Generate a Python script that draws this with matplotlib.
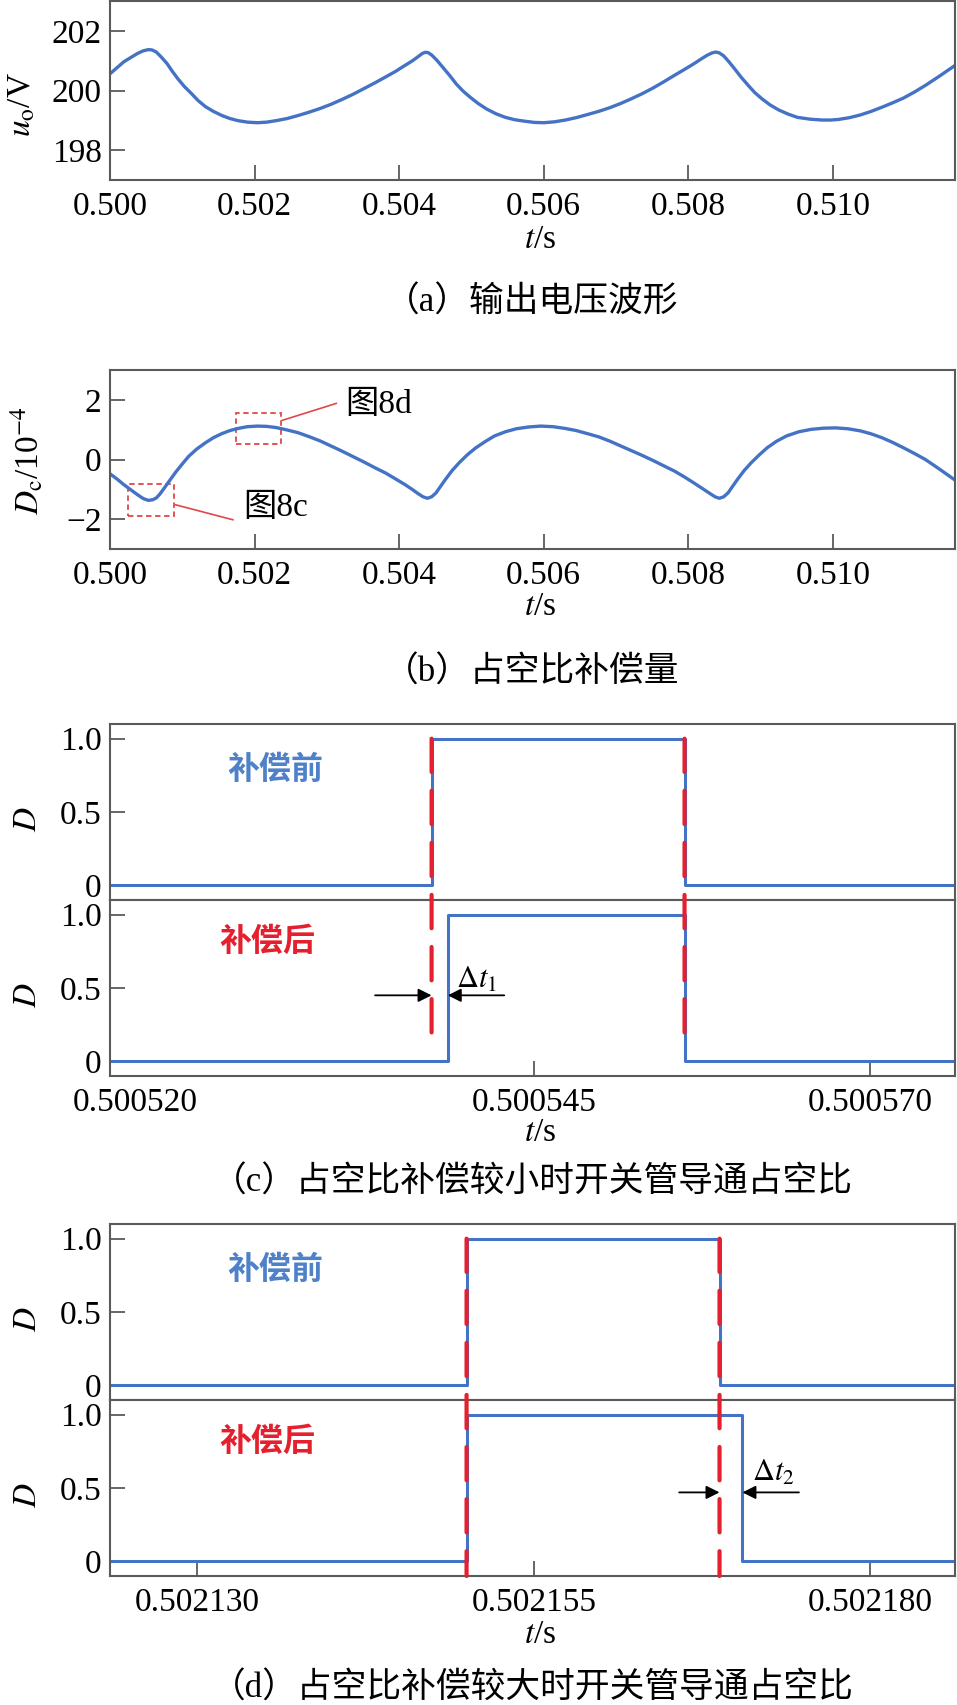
import matplotlib
matplotlib.use('Agg')
import matplotlib.pyplot as plt
from matplotlib.patches import Rectangle, ConnectionPatch

plt.rcParams['font.family'] = ['Liberation Serif', 'Noto Sans CJK SC']
plt.rcParams['mathtext.fontset'] = 'stix'

# (a) output voltage u_o
t_a = [0.50000, 0.50010, 0.50019, 0.50029, 0.50038, 0.50046, 0.50053, 0.50058,
       0.50064, 0.50071, 0.50079, 0.50086, 0.50094, 0.50103, 0.50113, 0.50122,
       0.50132, 0.50143, 0.50155, 0.50166, 0.50177, 0.50190, 0.50204, 0.50217,
       0.50230, 0.50245, 0.50260, 0.50275, 0.50291, 0.50306, 0.50321, 0.50336,
       0.50351, 0.50366, 0.50381, 0.50395, 0.50408, 0.50418, 0.50426, 0.50432,
       0.50436, 0.50440, 0.50445, 0.50452, 0.50460, 0.50470, 0.50479, 0.50488,
       0.50498, 0.50509, 0.50521, 0.50534, 0.50547, 0.50560, 0.50574, 0.50587,
       0.50600, 0.50615, 0.50630, 0.50645, 0.50660, 0.50676, 0.50691, 0.50706,
       0.50721, 0.50736, 0.50751, 0.50766, 0.50781, 0.50795, 0.50808, 0.50818,
       0.50826, 0.50833, 0.50838, 0.50843, 0.50849, 0.50856, 0.50864, 0.50873,
       0.50883, 0.50892, 0.50902, 0.50913, 0.50925, 0.50938, 0.50951, 0.50968,
       0.50985, 0.50997, 0.51008, 0.51023, 0.51038, 0.51053, 0.51068, 0.51083,
       0.51098, 0.51113, 0.51128, 0.51148, 0.51169]
u_o = [200.56, 200.77, 200.96, 201.11, 201.24, 201.33, 201.37, 201.36,
       201.29, 201.12, 200.90, 200.65, 200.39, 200.13, 199.89, 199.66,
       199.46, 199.30, 199.16, 199.06, 198.99, 198.94, 198.92, 198.94,
       198.99, 199.06, 199.16, 199.27, 199.40, 199.54, 199.70, 199.87,
       200.06, 200.25, 200.45, 200.64, 200.84, 200.99, 201.13, 201.24,
       201.28, 201.27, 201.19, 201.02, 200.79, 200.50, 200.22, 199.99,
       199.78, 199.57, 199.38, 199.22, 199.10, 199.02, 198.97, 198.93,
       198.92, 198.95, 199.01, 199.09, 199.19, 199.30, 199.42, 199.56,
       199.72, 199.89, 200.08, 200.29, 200.51, 200.71, 200.90, 201.06,
       201.18, 201.26, 201.29, 201.26, 201.16, 200.97, 200.73, 200.45,
       200.17, 199.93, 199.72, 199.52, 199.35, 199.21, 199.10, 199.04,
       199.01, 199.01, 199.03, 199.09, 199.18, 199.30, 199.44, 199.59,
       199.75, 199.95, 200.17, 200.49, 200.84]

# (b) duty compensation D_c (x 1e-4)
t_b = [0.50000, 0.50010, 0.50019, 0.50029, 0.50038, 0.50046, 0.50053, 0.50059,
       0.50064, 0.50069, 0.50075, 0.50083, 0.50091, 0.50100, 0.50109, 0.50120,
       0.50132, 0.50143, 0.50155, 0.50166, 0.50177, 0.50190, 0.50204, 0.50217,
       0.50230, 0.50245, 0.50260, 0.50275, 0.50291, 0.50306, 0.50321, 0.50336,
       0.50351, 0.50366, 0.50381, 0.50395, 0.50408, 0.50418, 0.50426, 0.50433,
       0.50439, 0.50445, 0.50451, 0.50457, 0.50464, 0.50473, 0.50483, 0.50494,
       0.50506, 0.50519, 0.50532, 0.50547, 0.50562, 0.50579, 0.50596, 0.50613,
       0.50630, 0.50645, 0.50660, 0.50676, 0.50691, 0.50706, 0.50721, 0.50736,
       0.50751, 0.50766, 0.50781, 0.50795, 0.50808, 0.50820, 0.50830, 0.50837,
       0.50843, 0.50849, 0.50855, 0.50861, 0.50868, 0.50877, 0.50887, 0.50898,
       0.50909, 0.50922, 0.50936, 0.50953, 0.50970, 0.50987, 0.51004, 0.51021,
       0.51038, 0.51053, 0.51068, 0.51083, 0.51098, 0.51113, 0.51128, 0.51148,
       0.51169]
d_c = [-0.48, -0.66, -0.84, -1.02, -1.18, -1.31, -1.37, -1.35,
       -1.29, -1.16, -0.96, -0.69, -0.42, -0.15, 0.11, 0.35,
       0.56, 0.73, 0.87, 0.97, 1.04, 1.10, 1.12, 1.11,
       1.07, 0.99, 0.90, 0.77, 0.62, 0.45, 0.28, 0.10,
       -0.08, -0.27, -0.45, -0.65, -0.84, -1.00, -1.14, -1.25,
       -1.30, -1.25, -1.12, -0.91, -0.67, -0.38, -0.11, 0.15,
       0.39, 0.60, 0.79, 0.93, 1.03, 1.09, 1.12, 1.10,
       1.04, 0.97, 0.87, 0.76, 0.62, 0.46, 0.30, 0.14,
       -0.03, -0.21, -0.39, -0.59, -0.79, -0.98, -1.14, -1.25,
       -1.30, -1.25, -1.12, -0.91, -0.67, -0.38, -0.11, 0.15,
       0.39, 0.61, 0.79, 0.93, 1.01, 1.05, 1.06, 1.03,
       0.96, 0.86, 0.73, 0.57, 0.39, 0.20, 0.00, -0.33,
       -0.69]
ab_ticks = [0.500, 0.502, 0.504, 0.506, 0.508, 0.510]
ab_labels = ['0.500', '0.502', '0.504', '0.506', '0.508', '0.510']

# (c) small compensation: switching instants
t_c_before = [0.5005135, 0.5005374, 0.5005562, 0.5005763]
t_c_after = [0.5005135, 0.5005386, 0.5005562, 0.5005763]
d_c_before = [0, 1, 0, 0]
d_c_after = [0, 1, 0, 0]
c_ticks = [0.500520, 0.500545, 0.500570]
c_labels = ['0.500520', '0.500545', '0.500570']

# (d) large compensation: switching instants
t_d_before = [0.5021235, 0.5021500, 0.5021688, 0.5021863]
t_d_after = [0.5021235, 0.5021500, 0.5021705, 0.5021863]
d_d_before = [0, 1, 0, 0]
d_d_after = [0, 1, 0, 0]
d_ticks = [0.502130, 0.502155, 0.502180]
d_labels = ['0.502130', '0.502155', '0.502180']

blue = '#4472C4'
blue_txt = '#4F81C9'
red = '#E5202E'
frame = '#5a5a5a'
W, H = 957, 1705
FS = 24

fig = plt.figure(figsize=(W / 100, H / 100), dpi=100)


def box(top, bottom):
    return [110 / W, 1 - bottom / H, 845 / W, (bottom - top) / H]


def style(ax):
    for s in ax.spines.values():
        s.set_color(frame)
        s.set_linewidth(1.5)
    ax.tick_params(direction='in', length=11, width=1.3, color=frame,
                   labelsize=FS, top=False, right=False)
    ax.tick_params(axis='x', pad=8)
    ax.tick_params(axis='y', pad=6)


def cap(y, s):
    fig.text(532 / W, 1 - y / H, s, ha='center', va='center', fontsize=25)


def tlabel(y):
    fig.text(540 / W, 1 - y / H, r'$t$/s', ha='center', va='center', fontsize=FS)


# (a)
ax = fig.add_axes(box(1, 180))
ax.plot(t_a, u_o, color=blue, lw=2.4)
ax.set_xlim(0.500, 0.51169)
ax.set_ylim(197, 203)
ax.set_yticks([198, 200, 202], ['198', '200', '202'])
ax.set_xticks(ab_ticks, ab_labels)
style(ax)
ax.set_ylabel(r'$u_{\rm o}$/V', fontsize=FS)
ax.yaxis.set_label_coords(-0.086, 0.42)
tlabel(240)
cap(303, '（a）输出电压波形')

# (b)
ax = fig.add_axes(box(370, 549))
ax.plot(t_b, d_c, color=blue, lw=2.4)
ax.set_xlim(0.500, 0.51169)
ax.set_ylim(-3, 3)
ax.set_yticks([-2, 0, 2], ['\u22122', '0', '2'])
ax.set_xticks(ab_ticks, ab_labels)
style(ax)
ax.set_ylabel(r'$D_{\rm c}$/10$^{-4}$', fontsize=FS)
ax.yaxis.set_label_coords(-0.076, 0.49)
box_red = '#E04848'
ax.add_patch(Rectangle((0.50174, 0.53), 0.00062, 1.04, fill=False,
                       ec=box_red, lw=1.3, ls=(0, (3, 2))))
ax.add_patch(Rectangle((0.50025, -1.88), 0.00063, 1.06, fill=False,
                       ec=box_red, lw=1.3, ls=(0, (3, 2))))
ax.plot([0.50238, 0.50313], [1.31, 1.88], color=box_red, lw=1.2)
ax.plot([0.50091, 0.50170], [-1.52, -2.02], color=box_red, lw=1.2)
ax.text(0.50325, 1.85, '图8d', fontsize=FS, va='center')
ax.text(0.50184, -1.63, '图8c', fontsize=FS, va='center')
tlabel(607)
cap(673, '（b）占空比补偿量')


def pair(top, t0, d0, t1, d1, ticks, labels, edges, arrow, dt_text, dashed_end):
    ax1 = fig.add_axes(box(top, top + 176))
    ax2 = fig.add_axes(box(top + 176, top + 352))
    ax1.plot(t0, d0, color=blue, lw=2.2, drawstyle='steps-post')
    ax2.plot(t1, d1, color=blue, lw=2.2, drawstyle='steps-post')
    for a in (ax1, ax2):
        a.set_xlim(t0[0], t0[-1])
        a.set_ylim(-0.1, 1.1)
        a.set_yticks([0, 0.5, 1.0], ['0', '0.5', '1.0'])
        style(a)
        a.set_ylabel(r'$D$', fontsize=FS)
        a.yaxis.set_label_coords(-0.079, 0.46)
    ax1.set_xticks(ticks)
    ax1.tick_params(axis='x', bottom=False, labelbottom=False)
    ax2.set_xticks(ticks, labels)
    ax1.text(0.196, 0.74, '补偿前', transform=ax1.transAxes, ha='center',
             va='center', color=blue_txt, fontsize=23, fontweight='bold',
             family=['Noto Sans CJK SC'])
    ax2.text(0.186, 0.76, '补偿后', transform=ax2.transAxes, ha='center',
             va='center', color=red, fontsize=23, fontweight='bold',
             family=['Noto Sans CJK SC'])
    for x, yend in zip(edges, dashed_end):
        con = ConnectionPatch(xyA=(x, 1.0), coordsA='data', axesA=ax1,
                              xyB=(x, yend), coordsB='data', axesB=ax2,
                              color=red, lw=3.0, linestyle=(0, (8, 4.5)),
                              arrowstyle='-', shrinkA=0, shrinkB=0)
        fig.add_artist(con)
    xl, tipl, xr, tipr, ya = arrow
    for start, tip in ((xl, tipl), (xr, tipr)):
        ax2.annotate('', xy=(tip, ya), xytext=(start, ya),
                     arrowprops=dict(arrowstyle='-|>', color='k', lw=1.3,
                                     mutation_scale=20, shrinkA=0, shrinkB=0))
    ax2.text(dt_text[0], dt_text[1], dt_text[2], fontsize=22)
    return ax1, ax2


# (c)
c1, c2 = pair(724, t_c_before, d_c_before, t_c_after, d_c_after, c_ticks,
              c_labels, [t_c_before[1], t_c_before[2]],
              (0.5005332, t_c_before[1], 0.5005428, t_c_after[1], 0.45),
              (0.5005392, 0.50, r'$\Delta t_1$'), [0.13, 0.13])
tk = c2.xaxis.get_major_ticks()[0]
tk.tick1line.set_visible(False)
tk.label1.set_horizontalalignment('right')
tlabel(1133)
cap(1183, '（c）占空比补偿较小时开关管导通占空比')

# (d)
d1, d2 = pair(1224, t_d_before, d_d_before, t_d_after, d_d_after, d_ticks,
              d_labels, [t_d_before[1], t_d_before[2]],
              (0.5021658, t_d_before[2], 0.5021747, t_d_after[2], 0.47),
              (0.5021712, 0.55, r'$\Delta t_2$'), [-0.1, -0.1])
tlabel(1635)
cap(1689, '（d）占空比补偿较大时开关管导通占空比')

plt.savefig('out.png', dpi=100)
